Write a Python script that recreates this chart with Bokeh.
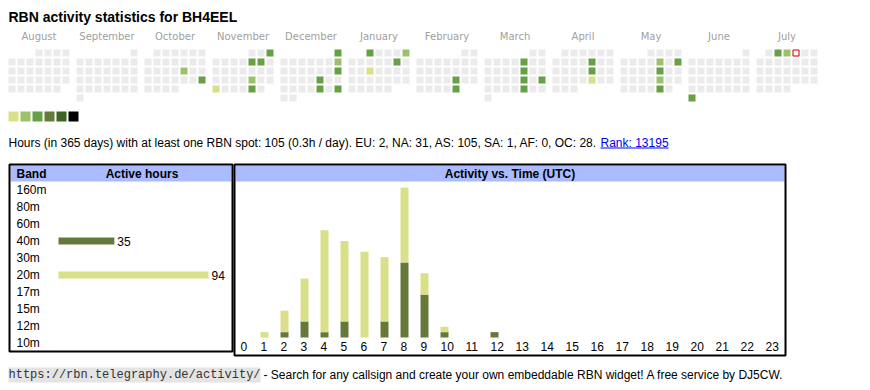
import datetime as dt
from bokeh.plotting import figure
from bokeh.models import Range1d
from bokeh.core.properties import value
from bokeh.embed import file_html
from bokeh.resources import INLINE

# ---------------- data ----------------
callsign = "BH4EEL"
month_names = ["August", "September", "October", "November", "December", "January",
               "February", "March", "April", "May", "June", "July"]
first_day = "2024-08-01"
last_day = "2025-07-31"
today = "2025-07-04"

active_dates = ["2024-10-18", "2024-10-27", "2024-11-03", "2024-11-08", "2024-11-09",
                "2024-11-22", "2024-11-25", "2024-11-29", "2024-12-01", "2024-12-08",
                "2024-12-15", "2024-12-20", "2024-12-27", "2024-12-29", "2025-01-01",
                "2025-01-05", "2025-01-11", "2025-01-15", "2025-02-21", "2025-02-28",
                "2025-03-07", "2025-03-14", "2025-03-21", "2025-03-23", "2025-03-28",
                "2025-04-11", "2025-04-18", "2025-04-25", "2025-05-09", "2025-05-11",
                "2025-05-16", "2025-05-23", "2025-05-30", "2025-06-30", "2025-07-02",
                "2025-07-03"]
active_levels = [2, 3, 3, 3, 3,
                 2, 1, 3, 3, 2,
                 3, 3, 3, 3, 3,
                 2, 3, 1, 3, 3,
                 3, 3, 3, 3, 3,
                 3, 3, 1, 2, 3,
                 3, 2, 3, 3, 3,
                 2]

bands = ["160m", "80m", "60m", "40m", "30m", "20m", "17m", "15m", "12m", "10m"]
band_hours = [0, 0, 0, 35, 0, 94, 0, 0, 0, 0]

hours = list(range(24))
hours_40m = [0, 0, 1, 3, 1, 3, 0, 3, 14, 8, 1, 0, 1, 0, 0, 0, 0, 0, 0, 0, 0, 0, 0, 0]
hours_20m = [0, 1, 4, 8, 19, 15, 16, 12, 14, 4, 1, 0, 0, 0, 0, 0, 0, 0, 0, 0, 0, 0, 0, 0]

total_hours = 105
hours_per_day = "0.3"
continents = ["EU", "NA", "AS", "SA", "AF", "OC"]
continent_hours = [2, 31, 105, 1, 0, 28]
rank = 13195

# ---------------- styles ----------------
W, H = 870, 390
level_colors = ["#d9e089", "#9dc16a", "#66a047", "#667b3a", "#3b6527", "#000000"]
empty_color = "#ebebeb"
band_colors = {"40m": "#657a3a", "20m": "#d9e089"}
color_40m = "#657a3a"
color_20m = "#d9e089"
header_blue = "#aabbff"
SANS = value("Liberation Sans")
MONO = value("Liberation Mono")
CAL_FONT = value("DejaVu Sans")


def lin_x(v0, px0, v1, px1):
    k = (px1 - px0) / (v1 - v0)
    return Range1d(start=v0 - px0 / k, end=v0 + (W - px0) / k)


def lin_y(v0, py0, v1, py1):
    # py measured from the top of the page
    k = (py1 - py0) / (v1 - v0)
    return Range1d(start=v0 + (H - py0) / k, end=v0 - py0 / k)


p = figure(width=W, height=H, x_range=Range1d(0, W), y_range=Range1d(H, 0),
           toolbar_location=None, output_backend="svg", min_border=0,
           x_axis_location=None, y_axis_location=None)
p.grid.visible = False
p.outline_line_color = None
p.background_fill_color = "white"
p.border_fill_color = "white"

# ---------- calendar ----------
BLOCK = 68 / 9  # month block pitch in cell pitches
p.extra_x_ranges["cx"] = lin_x(0, 11.5, 1, 20.5)
p.extra_y_ranges["cy"] = lin_y(0, 52.5, 1, 61.5)

d0 = dt.date.fromisoformat(first_day)
d1 = dt.date.fromisoformat(last_day)
levels = {dt.date.fromisoformat(s): l for s, l in zip(active_dates, active_levels)}
cx, cy, cc = [], [], []
d = d0
while d <= d1:
    m = (d.year - d0.year) * 12 + d.month - d0.month
    first_wd = d.replace(day=1).weekday()
    row = (d.day - 1 + first_wd) // 7
    cx.append(m * BLOCK + d.weekday())
    cy.append(row)
    cc.append(level_colors[levels[d] - 1] if d in levels else empty_color)
    d += dt.timedelta(days=1)
p.rect(x=cx, y=cy, width=7 / 9, height=7 / 9, fill_color=cc, line_color=None,
       x_range_name="cx", y_range_name="cy")

td = dt.date.fromisoformat(today)
tm = (td.year - d0.year) * 12 + td.month - d0.month
trow = (td.day - 1 + td.replace(day=1).weekday()) // 7
p.rect(x=[tm * BLOCK + td.weekday()], y=[trow], width=6 / 9, height=6 / 9,
       fill_color="#f6f6f6", line_color="#e00000", line_width=1,
       x_range_name="cx", y_range_name="cy")

p.text(x=[i * BLOCK + 3 for i in range(len(month_names))], y=[35.5] * len(month_names),
       text=month_names, text_align="center", text_baseline="middle",
       text_font=CAL_FONT, text_font_size="10px", text_color="#a0a0a0",
       x_range_name="cx")

# legend squares
p.rect(x=[13 + 12 * i for i in range(len(level_colors))], y=[116] * len(level_colors),
       width=10, height=10, fill_color=level_colors, line_color=None)

# ---------- title & summary text ----------
p.text(x=[8], y=[16], text=[f"RBN activity statistics for {callsign}"],
       text_font=SANS, text_font_size="14px", text_font_style="bold",
       text_baseline="middle", text_color="#000000")

summary = (f"Hours (in 365 days) with at least one RBN spot: {total_hours} "
           f"({hours_per_day}h / day). "
           + ", ".join(f"{c}: {v}" for c, v in zip(continents, continent_hours)) + ". ")
p.text(x=[8], y=[142], text=[summary], text_font=SANS, text_font_size="12px",
       text_baseline="middle", text_color="#000000")
p.text(x=[600], y=[142], text=[f"Rank: {rank}"], text_font=SANS, text_font_size="12px",
       text_baseline="middle", text_color="#0000ee")
p.segment(x0=[600], x1=[668], y0=[147.5], y1=[147.5], line_color="#0000ee", line_width=1)

# ---------- boxes ----------
p.quad(left=[10, 235], right=[231, 784], top=[165, 165], bottom=[181, 181],
       fill_color=header_blue, line_color=None)
p.quad(left=[9, 234], right=[232, 785], top=[164, 164], bottom=[351, 355],
       fill_color=None, line_color="#000000", line_width=2)

p.text(x=[16], y=[173], text=["Band"], text_font=SANS, text_font_size="12px",
       text_font_style="bold", text_baseline="middle")
p.text(x=[141.5], y=[173], text=["Active hours"], text_font=SANS, text_font_size="12px",
       text_font_style="bold", text_baseline="middle", text_align="center")
p.text(x=[509.5], y=[173], text=["Activity vs. Time (UTC)"], text_font=SANS,
       text_font_size="12px", text_font_style="bold", text_baseline="middle",
       text_align="center")

# ---------- band chart ----------
bmax = max(band_hours)
p.extra_x_ranges["bx"] = lin_x(0, 58, bmax, 208)
p.extra_y_ranges["by"] = lin_y(0, 189.5, 1, 206.5)
rows = list(range(len(bands)))
p.text(x=[16] * len(bands), y=rows, text=bands, text_font=SANS, text_font_size="12px",
       text_baseline="middle", y_range_name="by")
act = [(r, v, b) for r, v, b in zip(rows, band_hours, bands) if v > 0]
p.hbar(y=[a[0] for a in act], left=0, right=[a[1] for a in act], height=7 / 17,
       fill_color=[band_colors[a[2]] for a in act], line_color=None,
       x_range_name="bx", y_range_name="by")
p.text(x=[a[1] for a in act], y=[a[0] for a in act], text=[str(a[1]) for a in act],
       x_offset=3, text_font=SANS, text_font_size="12px", text_baseline="middle",
       x_range_name="bx", y_range_name="by")

# ---------- hourly chart ----------
hour_labels = [str(h) for h in hours]
col_w = [20 if len(s) == 1 else 25 for s in hour_labels]
col_left = [sum(col_w[:i]) for i in range(len(col_w))]
tot = [a + b for a, b in zip(hours_40m, hours_20m)]
p.extra_x_ranges["hx"] = lin_x(0, 240, 1, 241)
p.extra_y_ranges["hy"] = lin_y(0, 337, max(tot), 187)
bx_ = [c + 4 for c in col_left]
p.vbar(x=bx_, bottom=0, top=hours_40m, width=8, fill_color=color_40m, line_color=None,
       x_range_name="hx", y_range_name="hy")
p.vbar(x=bx_, bottom=hours_40m, top=tot, width=8, fill_color=color_20m, line_color=None,
       x_range_name="hx", y_range_name="hy")
p.text(x=col_left, y=[346] * 24, text=hour_labels, text_font=SANS, text_font_size="12px",
       text_baseline="middle", x_range_name="hx")

# ---------- footer ----------
url = "https://rbn.telegraphy.de/activity/"
p.quad(left=[8], right=[260], top=[367], bottom=[382], fill_color="#e4e4e4", line_color=None)
p.text(x=[8], y=[374.5], text=[url], text_font=MONO, text_font_size="12px",
       text_baseline="middle", text_color="#333333")
p.text(x=[263], y=[374.5],
       text=["- Search for any callsign and create your own embeddable RBN widget! "
             "A free service by DJ5CW."],
       text_font=SANS, text_font_size="12px", text_baseline="middle")

open("out.html", "w").write(file_html(p, INLINE))
